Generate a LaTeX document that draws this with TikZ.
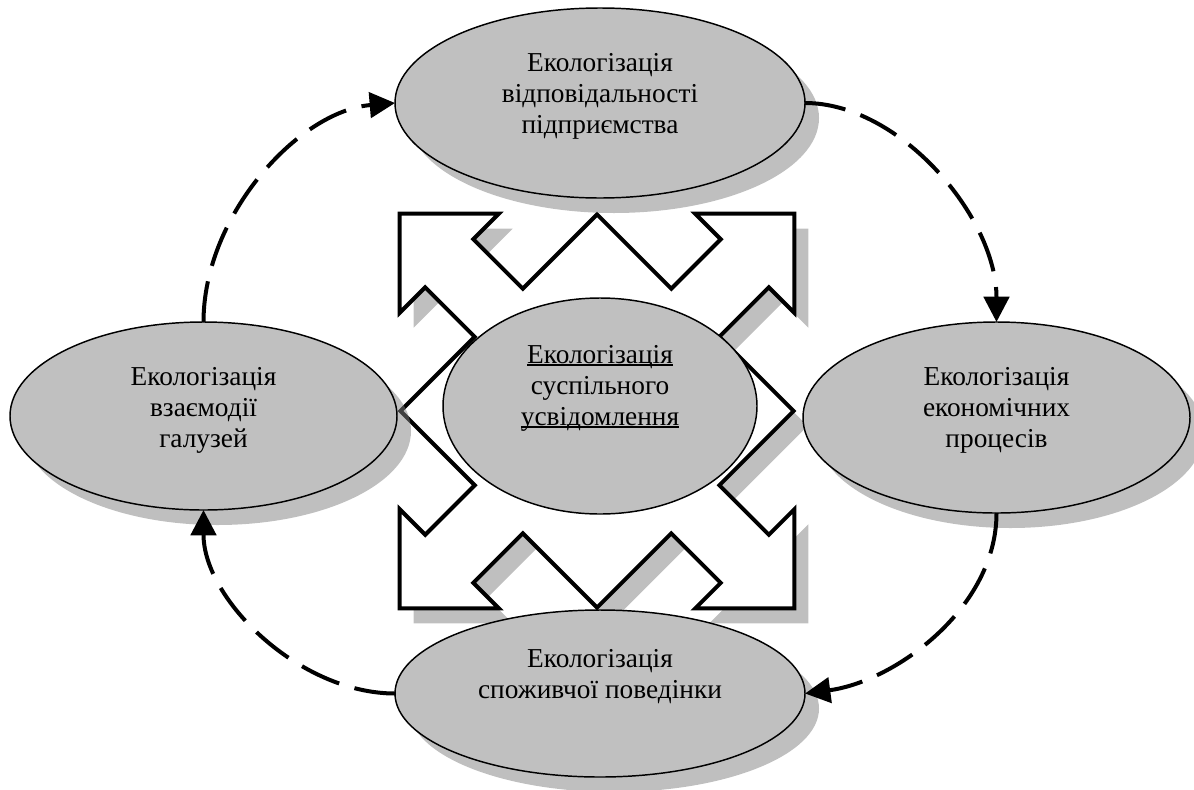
\documentclass[tikz,border=0pt]{standalone}
\usepackage{fontspec}
\setmainfont{Liberation Serif}
\usetikzlibrary{shapes.geometric,arrows.meta,shadows}
\definecolor{shade}{HTML}{C0C0C0}
\newcommand\wordul[1]{\setbox0\hbox{#1}\rlap{\rule[-2pt]{\wd0}{1.1pt}}\box0}
\tikzset{
  quadarrow/.pic={\path[pic actions]
    (139,-34) -- (209,-34) -- (209,-70) -- (279,0) -- (209,70) -- (209,34) -- (139,34)
    -- (139,139) -- (34,139) -- (34,209) -- (70,209) -- (0,279) -- (-70,209) -- (-34,209) -- (-34,139)
    -- (-139,139) -- (-139,34) -- (-209,34) -- (-209,70) -- (-279,0) -- (-209,-70) -- (-209,-34) -- (-139,-34)
    -- (-139,-139) -- (-34,-139) -- (-34,-209) -- (-70,-209) -- (0,-279) -- (70,-209) -- (34,-209) -- (34,-139)
    -- (139,-139) -- cycle;}
}
\begin{document}
\begin{tikzpicture}[x=0.75pt, y=-0.75pt,
  ell/.style={ellipse, draw, line width=1.1pt, fill=shade, inner sep=0pt, outer sep=0pt},
  shd/.style={drop shadow={shadow xshift=10.5pt, shadow yshift=-11.25pt, fill=black!50, opacity=0.5}},
  lbl/.style={font=\fontsize{20.5pt}{23.25pt}\selectfont, align=center, inner sep=0pt},
  flow/.style={line width=3pt, dash pattern=on 30.75pt off 12pt, -{Triangle[length=19pt,width=19pt]}},
  quadbody/.style={fill=white, draw=black, line width=3pt},
  quadshd/.style={fill=black!50, opacity=0.5}]
\useasboundingbox (0,0) rectangle (1194,789);
% central quad arrow
\pic[quadshd, rotate=45] at (611,426) {quadarrow};
\pic[quadbody, rotate=45] at (597,411) {quadarrow};
% ellipses
\node[ell, shd, minimum width=307.5pt, minimum height=142.5pt] (T) at (600,103) {};
\node[ell, shd, minimum width=290.25pt, minimum height=141pt] (L) at (203.5,416) {};
\node[ell, shd, minimum width=290.25pt, minimum height=143.25pt] (R) at (996.5,417.5) {};
\node[ell, shd, minimum width=307.5pt, minimum height=125.25pt] (B) at (600,693.5) {};
\node[ell, minimum width=235.5pt, minimum height=162pt] (C) at (600,406) {};
% labels
\node[lbl] (Tt) at (600,96) {Екологізація\\відповідальності\\підприємства};
\node[lbl] (Lt) at (203.5,410) {Екологізація\\взаємодії\\галузей};
\node[lbl] (Rt) at (996.5,410) {Екологізація\\економічних\\процесів};
\node[lbl] (Ct) at (600,388) {\wordul{Екологізація}\\суспільного\\\wordul{усвідомлення}};
\node[lbl] (Bt) at (600,677) {Екологізація\\споживчої поведінки};
% dashed cycle
\draw[flow] (L.north) .. controls +(0,-107) and +(-96,8) .. (T.west);
\draw[flow] (T.east) .. controls +(95,0) and +(0,-105) .. (R.north);
\draw[flow] (R.south) .. controls +(0,95) and +(90,-12) .. (B.east);
\draw[flow] (B.west) .. controls +(-95,0) and +(0,90) .. (L.south);
\end{tikzpicture}
\end{document}
